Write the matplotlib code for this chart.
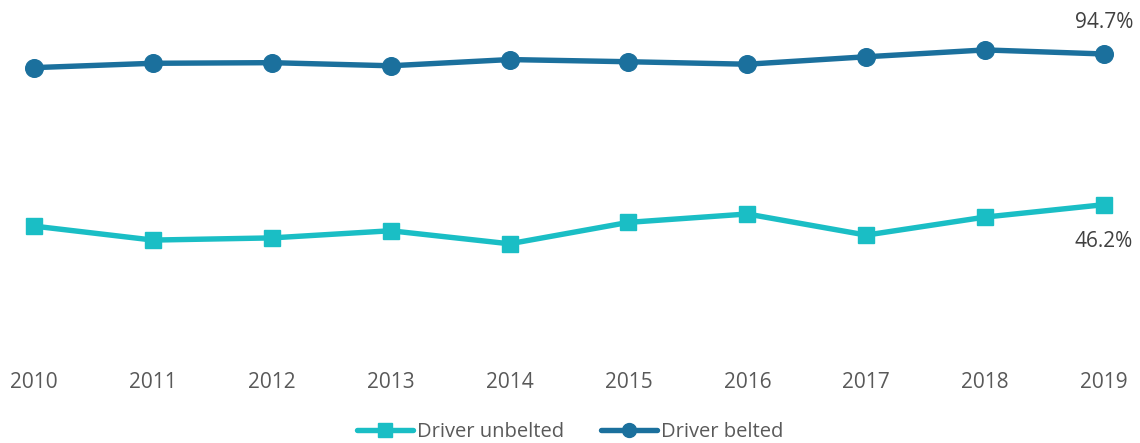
import matplotlib
matplotlib.use("Agg")
import matplotlib.pyplot as plt
from matplotlib.lines import Line2D

plt.rcParams['font.family'] = ['Open Sans', 'DejaVu Sans']

years = ["2010", "2011", "2012", "2013", "2014", "2015", "2016", "2017", "2018", "2019"]
driver_unbelted = [39.3, 34.8, 35.5, 37.8, 33.6, 40.5, 43.2, 36.4, 42.2, 46.2]
driver_belted = [90.3, 91.7, 91.9, 90.9, 92.9, 92.2, 91.4, 93.8, 96.0, 94.7]

c_unbelted = "#1ABEC5"
c_belted = "#1B709D"
text_color = "#595959"

W, H = 1140, 443
fig = plt.figure(figsize=(W / 100, H / 100), dpi=100)
zero_px = 348.2
ax = fig.add_axes([0, (H - zero_px) / H, 1, zero_px / H])

x = list(range(len(years)))
ax.plot(x, driver_unbelted, color=c_unbelted, lw=3.9, marker="s", markersize=11.8,
        solid_joinstyle="round", solid_capstyle="round", zorder=3)
ax.plot(x, driver_belted, color=c_belted, lw=3.9, marker="o", markersize=12.7,
        solid_joinstyle="round", solid_capstyle="round", zorder=3)

ax.set_xlim(-0.286, 9.303)
ax.set_ylim(0, 112.07)
ax.set_xticks(x)
ax.set_xticklabels(years, fontsize=15, color=text_color)
ax.tick_params(axis="x", length=0, pad=17)
ax.set_yticks([])
for s in ax.spines.values():
    s.set_visible(False)

# value labels on the final year
ax.annotate(f"{driver_belted[-1]:.1f}%", (x[-1], driver_belted[-1]), xytext=(0, 31),
            textcoords="offset pixels", ha="center", va="center", fontsize=15, color="#404040")
ax.annotate(f"{driver_unbelted[-1]:.1f}%", (x[-1], driver_unbelted[-1]), xytext=(0, -37),
            textcoords="offset pixels", ha="center", va="center", fontsize=15, color="#404040")

handles = [
    Line2D([], [], color=c_unbelted, lw=3.9, marker="s", markersize=10, solid_capstyle="round"),
    Line2D([], [], color=c_belted, lw=3.9, marker="o", markersize=10, solid_capstyle="round"),
]
fig.legend(handles, ["Driver unbelted", "Driver belted"], loc="center",
           bbox_to_anchor=(0.5, 1 - 432 / H), ncol=2, frameon=False, fontsize=14.5,
           labelcolor=text_color, handlelength=2.8, handletextpad=0.2, columnspacing=1.8,
           borderaxespad=0, borderpad=0)

fig.savefig("out.png", dpi=100)
